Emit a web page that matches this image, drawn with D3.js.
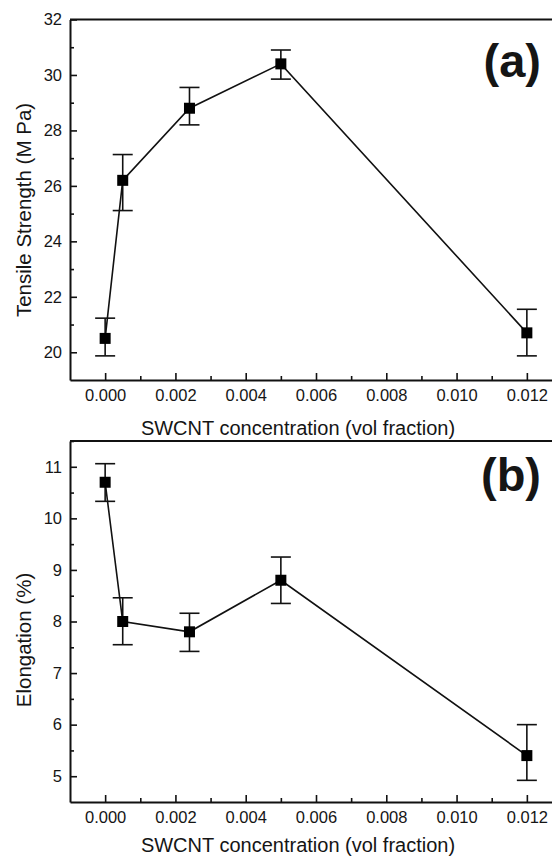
<!DOCTYPE html>
<html>
<head>
<meta charset="utf-8">
<script src="https://cdn.jsdelivr.net/npm/d3@7"></script>
<style>
  body { margin: 0; background: #fff; }
  svg { display: block; }
  text { font-family: "Liberation Sans", Arial, sans-serif; fill: #151515; }
</style>
</head>
<body>
<svg id="chart" width="552" height="859"></svg>
<script>
// SWCNT volume fraction (shared by both panels)
const conc = [0, 0.0005, 0.0024, 0.005, 0.012];

// panel (a) tensile strength, MPa, with error bar ends
const strength = [20.5, 26.2, 28.8, 30.4, 20.7];
const strengthHi = [21.23, 27.13, 29.55, 30.9, 21.55];
const strengthLo = [19.87, 25.11, 28.2, 29.85, 19.87];

// panel (b) elongation, %, with error bar ends
const elong = [10.7, 8.0, 7.8, 8.8, 5.4];
const elongHi = [11.06, 8.46, 8.16, 9.25, 6.0];
const elongLo = [10.33, 7.55, 7.42, 8.35, 4.92];

const xTicks = [0, 0.002, 0.004, 0.006, 0.008, 0.010, 0.012];
const xMinor = [0.001, 0.003, 0.005, 0.007, 0.009, 0.011];
const yTicksA = [20, 22, 24, 26, 28, 30, 32];
const yMinorA = [21, 23, 25, 27, 29, 31];
const yTicksB = [5, 6, 7, 8, 9, 10, 11];
const yMinorB = [5.5, 6.5, 7.5, 8.5, 9.5, 10.5, 11.5];

const svg = d3.select("#chart");

const x = d3.scaleLinear().domain([-0.001, 0.013]).range([70, 562]);

function drawPanel(opt) {
    const y = d3.scaleLinear().domain(opt.yDomain).range([opt.bottom, opt.top]);
    const g = svg.append("g");

    // x axis (ticks pointing inward)
    g.append("g").attr("transform", "translate(0," + opt.bottom + ")")
        .call(d3.axisBottom(x).tickValues(xTicks).tickSize(-7).tickSizeOuter(0)
            .tickPadding(9).tickFormat(d3.format(".3f")));
    g.append("g").attr("transform", "translate(0," + opt.bottom + ")")
        .call(d3.axisBottom(x).tickValues(xMinor).tickSize(-4).tickSizeOuter(0).tickFormat(""))
        .select(".domain").remove();

    // y axis
    g.append("g").attr("transform", "translate(70,0)")
        .call(d3.axisLeft(y).tickValues(opt.yTicks).tickSize(-7).tickSizeOuter(0)
            .tickPadding(8).tickFormat(d3.format("d")));
    g.append("g").attr("transform", "translate(70,0)")
        .call(d3.axisLeft(y).tickValues(opt.yMinor).tickSize(-4).tickSizeOuter(0).tickFormat(""))
        .select(".domain").remove();

    g.selectAll(".domain").attr("stroke", "#111").attr("stroke-width", 2);
    g.selectAll(".tick line").attr("stroke", "#111").attr("stroke-width", 1.6);
    g.selectAll(".tick text").attr("font-size", "16.5px").attr("fill", "#151515")
        .style("font-family", "'Liberation Sans', Arial, sans-serif");

    // top frame line
    g.append("line")
        .attr("x1", 70).attr("x2", 562)
        .attr("y1", opt.top).attr("y2", opt.top)
        .attr("stroke", "#111").attr("stroke-width", 2);

    const data = conc.map(function(c, i) {
        return { x: c, y: opt.vals[i], hi: opt.hi[i], lo: opt.lo[i] };
    });

    // error bars
    const eb = g.selectAll(".err").data(data).enter().append("g").attr("class", "err")
        .attr("stroke", "#111").attr("stroke-width", 1.6);
    eb.append("line")
        .attr("x1", function(d) { return x(d.x); }).attr("x2", function(d) { return x(d.x); })
        .attr("y1", function(d) { return y(d.hi); }).attr("y2", function(d) { return y(d.lo); });
    eb.append("line")
        .attr("x1", function(d) { return x(d.x) - 10; }).attr("x2", function(d) { return x(d.x) + 10; })
        .attr("y1", function(d) { return y(d.hi); }).attr("y2", function(d) { return y(d.hi); });
    eb.append("line")
        .attr("x1", function(d) { return x(d.x) - 10; }).attr("x2", function(d) { return x(d.x) + 10; })
        .attr("y1", function(d) { return y(d.lo); }).attr("y2", function(d) { return y(d.lo); });

    // connecting line
    g.append("path").datum(data)
        .attr("fill", "none").attr("stroke", "#111").attr("stroke-width", 1.6)
        .attr("d", d3.line().x(function(d) { return x(d.x); }).y(function(d) { return y(d.y); }));

    // square markers
    g.selectAll(".pt").data(data).enter().append("rect").attr("class", "pt")
        .attr("x", function(d) { return x(d.x) - 5.5; })
        .attr("y", function(d) { return y(d.y) - 5.5; })
        .attr("width", 11).attr("height", 11)
        .attr("fill", "#000");

    // titles
    g.append("text")
        .attr("x", 298).attr("y", opt.xTitleY)
        .attr("text-anchor", "middle").attr("font-size", "20px")
        .text("SWCNT concentration (vol fraction)");
    g.append("text")
        .attr("transform", "translate(31," + opt.yTitleY + ") rotate(-90)")
        .attr("text-anchor", "middle").attr("font-size", "20.5px")
        .text(opt.yTitle);

    // panel letter
    g.append("text")
        .attr("x", 541).attr("y", opt.letterY)
        .attr("text-anchor", "end").attr("font-size", "47px").attr("font-weight", "bold")
        .attr("fill", "#000")
        .text(opt.letter);
}

drawPanel({
    top: 19.5, bottom: 380, yDomain: [19, 32],
    yTicks: yTicksA, yMinor: yMinorA,
    vals: strength, hi: strengthHi, lo: strengthLo,
    yTitle: "Tensile Strength (M Pa)", yTitleY: 210, xTitleY: 435,
    letter: "(a)", letterY: 77
});

drawPanel({
    top: 441, bottom: 802, yDomain: [4.5, 11.5],
    yTicks: yTicksB, yMinor: yMinorB,
    vals: elong, hi: elongHi, lo: elongLo,
    yTitle: "Elongation (%)", yTitleY: 640, xTitleY: 852,
    letter: "(b)", letterY: 491
});
</script>
</body>
</html>
